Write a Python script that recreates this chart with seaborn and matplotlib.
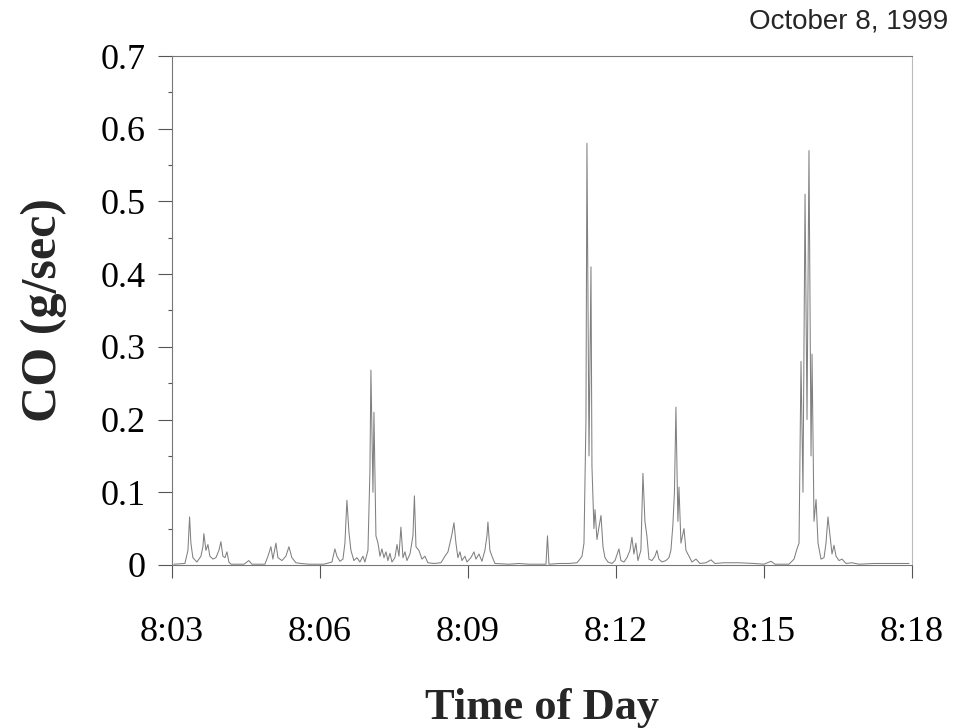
import matplotlib
matplotlib.use("Agg")
import matplotlib.pyplot as plt
import seaborn as sns
import pandas as pd
from matplotlib.ticker import MultipleLocator

# time in seconds after 8:03:00
seconds = [2.4, 15.8, 19.5, 21.5, 23.1, 25.5, 30.4, 35.3, 37.7, 38.9, 41.4, 43.8, 46.2, 49.9,
           53.5, 57.2, 59.6, 62.0, 64.5, 66.9, 69.3, 71.8, 87.6, 93.6, 97.3, 113.1, 116.8, 120.4,
           122.8, 126.5, 128.9, 133.8, 138.6, 142.3, 145.9, 150.8, 156.9, 166.6, 184.9, 194.6,
           198.2, 200.7, 204.3, 208.0, 210.4, 212.8, 215.3, 217.7, 221.3, 225.0, 228.6, 232.3,
           234.7, 238.4, 240.8, 242.0, 244.5, 245.7, 248.1, 250.6, 253.0, 255.4, 257.9, 260.3,
           262.7, 265.1, 267.6, 271.2, 273.7, 276.1, 278.5, 281.0, 283.4, 285.8, 289.5, 293.1,
           294.9, 296.8, 300.4, 304.1, 307.7, 311.3, 318.6, 327.2, 332.0, 335.7, 338.1, 340.5,
           343.0, 345.4, 347.8, 350.3, 352.7, 356.3, 358.8, 363.6, 367.3, 369.7, 373.4, 377.0,
           380.6, 383.1, 384.3, 386.7, 389.2, 392.8, 409.9, 422.0, 434.2, 454.9, 456.7, 458.5,
           470.7, 482.8, 492.6, 496.2, 498.7, 501.1, 503.5, 504.7, 507.2, 509.6, 510.8, 513.2,
           514.5, 516.9, 519.3, 521.8, 524.2, 526.6, 530.3, 535.1, 538.8, 543.6, 546.0, 549.7,
           553.3, 557.0, 559.4, 561.8, 564.2, 566.7, 570.3, 572.8, 575.2, 577.6, 580.1, 583.7,
           587.4, 589.8, 592.2, 595.9, 600.7, 604.4, 606.8, 609.2, 611.1, 612.9, 615.3, 616.6,
           619.0, 622.7, 625.1, 628.7, 632.4, 637.3, 642.1, 649.4, 655.5, 660.3, 671.3, 689.6,
           707.8, 720.0, 728.5, 733.4, 750.4, 756.5, 760.1, 762.6, 765.0, 767.4, 769.9, 772.3,
           774.7, 777.2, 778.4, 780.8, 783.3, 785.7, 789.3, 793.0, 795.4, 797.8, 800.3, 802.7,
           805.1, 807.6, 811.2, 814.9, 819.7, 827.0, 835.5, 853.8, 878.1, 896.3]

co_g_per_sec = [0.001, 0.002, 0.02, 0.066, 0.03, 0.01, 0.004, 0.012, 0.025, 0.043, 0.02, 0.028,
                0.012, 0.008, 0.01, 0.02, 0.032, 0.012, 0.01, 0.018, 0.004, 0.001, 0.001, 0.006,
                0.001, 0.001, 0.012, 0.025, 0.008, 0.03, 0.01, 0.006, 0.012, 0.025, 0.01, 0.003,
                0.002, 0.001, 0.001, 0.004, 0.022, 0.012, 0.005, 0.008, 0.03, 0.089, 0.045, 0.02,
                0.006, 0.01, 0.004, 0.012, 0.004, 0.02, 0.13, 0.268, 0.1, 0.21, 0.04, 0.03, 0.012,
                0.022, 0.01, 0.018, 0.006, 0.016, 0.004, 0.01, 0.028, 0.012, 0.052, 0.01, 0.018,
                0.006, 0.015, 0.04, 0.095, 0.025, 0.02, 0.008, 0.012, 0.003, 0.002, 0.003, 0.012,
                0.018, 0.03, 0.042, 0.058, 0.03, 0.01, 0.018, 0.006, 0.012, 0.004, 0.01, 0.018,
                0.008, 0.015, 0.005, 0.02, 0.04, 0.059, 0.02, 0.012, 0.002, 0.001, 0.002, 0.001,
                0.001, 0.04, 0.001, 0.002, 0.002, 0.003, 0.008, 0.012, 0.03, 0.2, 0.58, 0.15, 0.41,
                0.135, 0.05, 0.076, 0.035, 0.052, 0.068, 0.025, 0.01, 0.004, 0.002, 0.006, 0.022,
                0.006, 0.004, 0.01, 0.02, 0.038, 0.015, 0.03, 0.006, 0.02, 0.126, 0.06, 0.04, 0.008,
                0.006, 0.012, 0.02, 0.008, 0.004, 0.006, 0.01, 0.02, 0.055, 0.1, 0.217, 0.06, 0.107,
                0.03, 0.05, 0.02, 0.012, 0.004, 0.008, 0.002, 0.003, 0.007, 0.002, 0.003, 0.003,
                0.002, 0.001, 0.005, 0.001, 0.001, 0.008, 0.022, 0.03, 0.28, 0.1, 0.51, 0.2, 0.57,
                0.15, 0.29, 0.06, 0.09, 0.03, 0.008, 0.01, 0.03, 0.066, 0.04, 0.015, 0.027, 0.012,
                0.006, 0.008, 0.002, 0.003, 0.001, 0.002, 0.002, 0.002]

x_tick_seconds = [0, 180, 360, 540, 720, 900]
x_tick_labels = ["8:03", "8:06", "8:09", "8:12", "8:15", "8:18"]
y_ticks = [0, 0.1, 0.2, 0.3, 0.4, 0.5, 0.6, 0.7]
y_tick_labels = ["0", "0.1", "0.2", "0.3", "0.4", "0.5", "0.6", "0.7"]

df = pd.DataFrame({"t": seconds, "co": co_g_per_sec})

sns.set_style("ticks")
plt.rcParams["font.family"] = ["Liberation Serif", "DejaVu Serif"]

fig = plt.figure(figsize=(9.55, 7.28), dpi=100)
ax = fig.add_axes([0.180, 0.224, 0.775, 0.699])

sns.lineplot(data=df, x="t", y="co", ax=ax, color="#808080", linewidth=0.75)

ax.set_xlim(0, 900)
ax.set_ylim(0, 0.7)
ax.set_xticks(x_tick_seconds)
ax.set_xticklabels(x_tick_labels)
ax.set_yticks(y_ticks)
ax.set_yticklabels(y_tick_labels)
ax.yaxis.set_minor_locator(MultipleLocator(0.05))

ax.tick_params(axis="both", which="major", labelsize=26, colors="#555555",
               labelcolor="black", width=0.8)
ax.tick_params(axis="y", which="major", length=10, pad=9)
ax.tick_params(axis="y", which="minor", length=3, width=0.8, colors="#555555")
ax.tick_params(axis="x", which="major", length=9, pad=28)

for side in ["left", "right", "top", "bottom"]:
    ax.spines[side].set_visible(True)
    ax.spines[side].set_color("#777777")
    ax.spines[side].set_linewidth(0.8)
ax.spines["right"].set_color("#bbbbbb")

ax.set_xlabel("Time of Day", fontsize=32, fontweight="bold", labelpad=28)
ax.set_ylabel("CO (g/sec)", fontsize=36, fontweight="bold", labelpad=24)

fig.text(0.993, 0.97, "October 8, 1999", ha="right", va="center", fontsize=20,
         family=["Liberation Sans", "DejaVu Sans"])

fig.savefig("out.png", dpi=100)
